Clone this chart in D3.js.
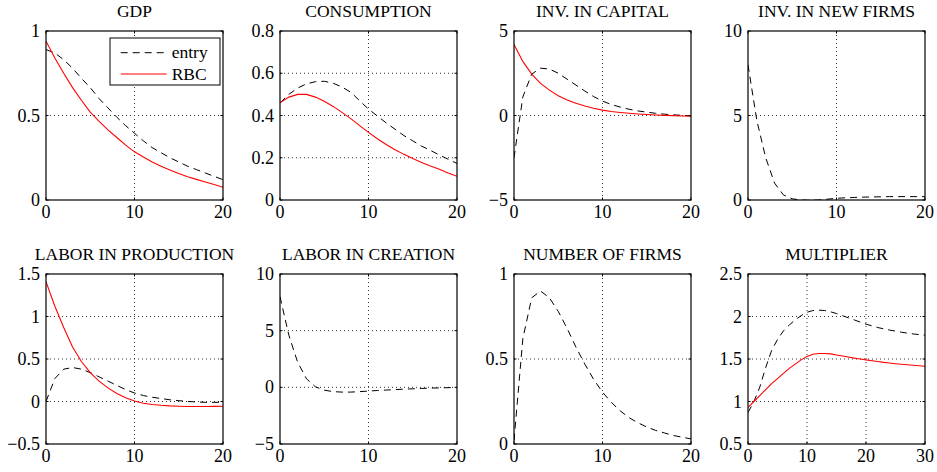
<!DOCTYPE html>
<html><head><meta charset="utf-8">
<script src="https://cdn.jsdelivr.net/npm/d3@7"></script>
<style>
body{margin:0;background:#fff}
svg{display:block}
</style>
</head><body>
<svg id="chart" width="937" height="472"></svg>
<script>
// ---------------- DATA ----------------
const titles = ["GDP","CONSUMPTION","INV. IN CAPITAL","INV. IN NEW FIRMS",
                "LABOR IN PRODUCTION","LABOR IN CREATION","NUMBER OF FIRMS","MULTIPLIER"];
const seriesNames = ["entry","RBC"];

const gdpEntry = [0.89,0.87,0.83,0.78,0.72,0.665,0.60,0.545,0.49,0.44,0.395,0.35,0.31,0.28,0.25,0.225,0.20,0.18,0.16,0.14,0.12];
const gdpRBC   = [0.94,0.84,0.75,0.665,0.59,0.52,0.465,0.415,0.37,0.325,0.285,0.255,0.225,0.20,0.178,0.157,0.138,0.122,0.107,0.092,0.075];

const consEntry = [0.46,0.50,0.53,0.55,0.56,0.562,0.553,0.535,0.51,0.47,0.43,0.398,0.365,0.335,0.305,0.28,0.255,0.235,0.213,0.193,0.173];
const consRBC   = [0.46,0.487,0.50,0.50,0.487,0.467,0.443,0.415,0.385,0.352,0.32,0.29,0.263,0.238,0.216,0.196,0.178,0.161,0.146,0.128,0.112];

const invKEntry = [-2.5,1.1,2.45,2.8,2.75,2.5,2.15,1.8,1.45,1.12,0.85,0.65,0.5,0.37,0.27,0.2,0.13,0.08,0.04,0.01,-0.02];
const invKRBC   = [4.2,3.2,2.45,1.9,1.5,1.17,0.92,0.72,0.56,0.43,0.32,0.24,0.18,0.13,0.09,0.06,0.03,0.01,-0.01,-0.03,-0.04];

const invFEntry = [8.0,4.7,2.5,1.0,0.3,0.07,0.0,-0.02,0.0,0.05,0.1,0.13,0.15,0.17,0.18,0.19,0.2,0.2,0.2,0.2,0.2];

const labPEntry = [0.0,0.27,0.38,0.40,0.38,0.34,0.29,0.24,0.19,0.14,0.10,0.07,0.05,0.035,0.02,0.01,0.0,-0.005,-0.01,-0.01,-0.01];
const labPRBC   = [1.41,1.12,0.87,0.64,0.47,0.34,0.24,0.16,0.095,0.045,0.005,-0.02,-0.035,-0.045,-0.052,-0.056,-0.058,-0.058,-0.058,-0.057,-0.056];

const labCEntry = [8.0,4.6,2.2,0.75,0.05,-0.25,-0.38,-0.42,-0.42,-0.38,-0.33,-0.28,-0.24,-0.2,-0.16,-0.13,-0.1,-0.07,-0.05,-0.03,-0.02];

const firmsEntry = [0.02,0.62,0.86,0.90,0.86,0.78,0.68,0.57,0.47,0.38,0.305,0.245,0.195,0.155,0.125,0.10,0.08,0.065,0.05,0.04,0.03];

const multEntry = [0.87,1.0,1.17,1.4,1.6,1.73,1.83,1.9,1.96,2.01,2.05,2.07,2.075,2.07,2.055,2.035,2.01,1.985,1.96,1.935,1.91,1.89,1.87,1.855,1.84,1.828,1.815,1.805,1.795,1.787,1.78];
const multRBC   = [0.93,1.0,1.07,1.14,1.21,1.27,1.33,1.39,1.44,1.49,1.53,1.555,1.565,1.565,1.56,1.548,1.535,1.523,1.51,1.5,1.49,1.48,1.47,1.46,1.453,1.445,1.438,1.432,1.426,1.42,1.415];

const yTicksList = [
  [0,0.5,1],[0,0.2,0.4,0.6,0.8],[-5,0,5],[0,5,10],
  [-0.5,0,0.5,1,1.5],[-5,0,5,10],[0,0.5,1],[0.5,1,1.5,2,2.5]
];
const yTickLabelsList = [
  ["0","0.5","1"],["0","0.2","0.4","0.6","0.8"],["\u22125","0","5"],["0","5","10"],
  ["\u22120.5","0","0.5","1","1.5"],["\u22125","0","5","10"],["0","0.5","1"],["0.5","1","1.5","2","2.5"]
];
const xTicksList = [[0,10,20],[0,10,20],[0,10,20],[0,10,20],[0,10,20],[0,10,20],[0,10,20],[0,10,20,30]];
const xTickLabelsList = [["0","10","20"],["0","10","20"],["0","10","20"],["0","10","20"],["0","10","20"],["0","10","20"],["0","10","20"],["0","10","20","30"]];

const entrySeries = [gdpEntry,consEntry,invKEntry,invFEntry,labPEntry,labCEntry,firmsEntry,multEntry];
const rbcSeries   = [gdpRBC,consRBC,invKRBC,null,labPRBC,null,null,multRBC];

// ---------------- LAYOUT ----------------
const FONT = "Liberation Serif";
const svg = d3.select("#chart");
const lefts = [46,280,514,748];
const panelW = 177;
const rows = [{top:31,bottom:200},{top:274,bottom:444}];
const tickLen = 2.5;

titles.forEach((title,i)=>{
  const col = i%4, row = Math.floor(i/4);
  const x0 = lefts[col], x1 = x0+panelW;
  const y0 = rows[row].top, y1 = rows[row].bottom;
  const yT = yTicksList[i], xT = xTicksList[i];
  const x = d3.scaleLinear().domain([xT[0], xT[xT.length-1]]).range([x0,x1]);
  const y = d3.scaleLinear().domain([yT[0], yT[yT.length-1]]).range([y1,y0]);
  const g = svg.append("g");

  // grid
  g.selectAll(".gx").data(xT.slice(1,-1)).enter().append("line")
    .attr("x1",d=>x(d)).attr("x2",d=>x(d)).attr("y1",y0).attr("y2",y1)
    .attr("stroke","#333").attr("stroke-width",1).attr("stroke-dasharray","1,3");
  g.selectAll(".gy").data(yT.slice(1,-1)).enter().append("line")
    .attr("y1",d=>y(d)).attr("y2",d=>y(d)).attr("x1",x0).attr("x2",x1)
    .attr("stroke","#333").attr("stroke-width",1).attr("stroke-dasharray","1,3");

  // tick marks (inward, all four sides)
  xT.forEach(d=>{
    g.append("line").attr("x1",x(d)).attr("x2",x(d)).attr("y1",y1).attr("y2",y1-tickLen).attr("stroke","#000");
    g.append("line").attr("x1",x(d)).attr("x2",x(d)).attr("y1",y0).attr("y2",y0+tickLen).attr("stroke","#000");
  });
  yT.forEach(d=>{
    g.append("line").attr("y1",y(d)).attr("y2",y(d)).attr("x1",x0).attr("x2",x0+tickLen).attr("stroke","#000");
    g.append("line").attr("y1",y(d)).attr("y2",y(d)).attr("x1",x1).attr("x2",x1-tickLen).attr("stroke","#000");
  });

  // clip
  const cid = "clip"+i;
  svg.append("clipPath").attr("id",cid).append("rect")
    .attr("x",x0).attr("y",y0).attr("width",x1-x0).attr("height",y1-y0);

  const line = d3.line().x((d,k)=>x(k)).y(d=>y(d));
  g.append("path").datum(entrySeries[i]).attr("d",line)
    .attr("clip-path","url(#"+cid+")")
    .attr("fill","none").attr("stroke","#000").attr("stroke-width",1)
    .attr("stroke-dasharray","7,5");
  if (rbcSeries[i]) {
    g.append("path").datum(rbcSeries[i]).attr("d",line)
      .attr("clip-path","url(#"+cid+")")
      .attr("fill","none").attr("stroke","#ff0000").attr("stroke-width",1.1);
  }

  // box
  g.append("rect").attr("x",x0).attr("y",y0).attr("width",x1-x0).attr("height",y1-y0)
    .attr("fill","none").attr("stroke","#000").attr("stroke-width",1.2);

  // tick labels
  g.selectAll(".xl").data(xT).enter().append("text")
    .attr("font-family",FONT)
    .attr("x",d=>x(d)).attr("y",y1+17.5).attr("text-anchor","middle")
    .attr("font-size",18).text((d,k)=>xTickLabelsList[i][k]);
  g.selectAll(".yl").data(yT).enter().append("text")
    .attr("font-family",FONT)
    .attr("x",x0-6).attr("y",d=>y(d)+6).attr("text-anchor","end")
    .attr("font-size",18).text((d,k)=>yTickLabelsList[i][k]);

  // title
  g.append("text").attr("font-family",FONT)
    .attr("x",(x0+x1)/2).attr("y",y0-14).attr("text-anchor","middle")
    .attr("font-size",17.5).text(title);

  // legend in first panel
  if (i===0) {
    const lg = svg.append("g");
    lg.append("rect").attr("x",110).attr("y",38).attr("width",110).attr("height",47)
      .attr("fill","#fff").attr("stroke","#000").attr("stroke-width",1);
    const rowsY = [52.7,74];
    lg.append("line").attr("x1",120.7).attr("x2",166.7).attr("y1",rowsY[0]).attr("y2",rowsY[0])
      .attr("stroke","#000").attr("stroke-dasharray","7,5");
    lg.append("line").attr("x1",120.7).attr("x2",166.7).attr("y1",rowsY[1]).attr("y2",rowsY[1])
      .attr("stroke","#ff0000").attr("stroke-width",1.1);
    seriesNames.forEach((n,k)=>{
      lg.append("text").attr("font-family",FONT)
        .attr("x",171.7).attr("y",rowsY[k]+5.5).attr("font-size",17.5).text(n);
    });
  }
});
</script>
</body></html>
